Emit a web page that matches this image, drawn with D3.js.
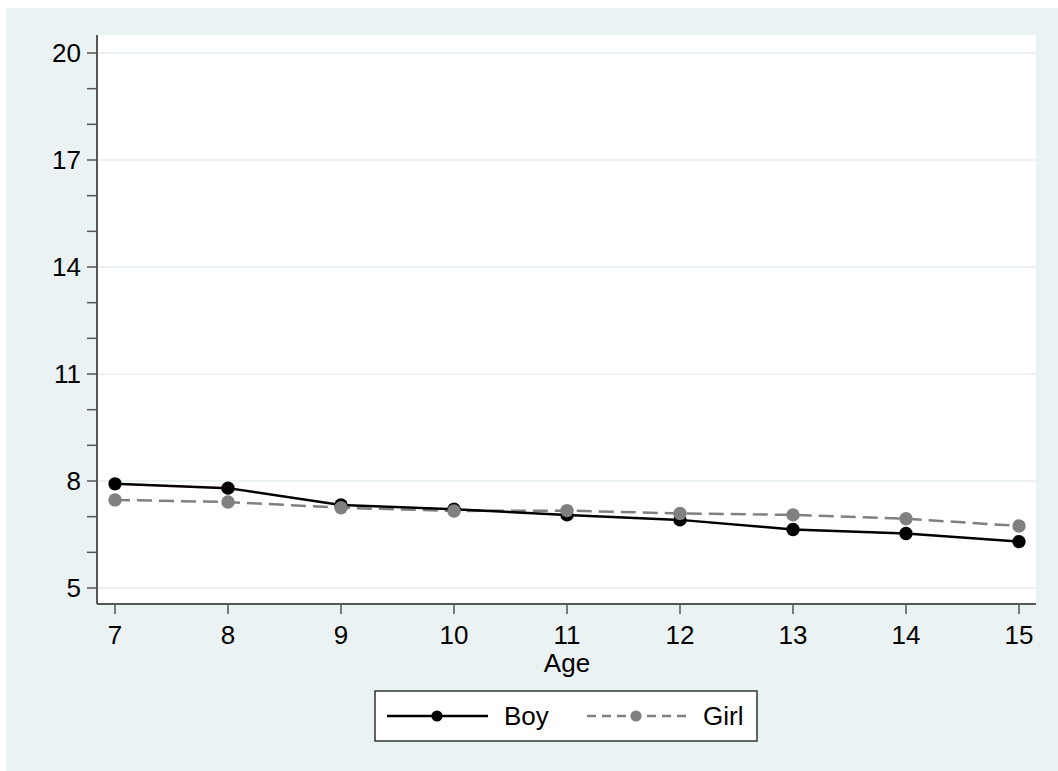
<!DOCTYPE html>
<html><head><meta charset="utf-8">
<script src="https://cdn.jsdelivr.net/npm/d3@7"></script>
<style>body{margin:0;background:#fff}svg{display:block}</style>
</head><body>
<script>
const ages = [7, 8, 9, 10, 11, 12, 13, 14, 15];
const boy  = [7.92, 7.80, 7.33, 7.21, 7.05, 6.91, 6.64, 6.53, 6.30];
const girl = [7.47, 7.41, 7.25, 7.16, 7.17, 7.09, 7.05, 6.94, 6.74];
const yMajor = [5, 8, 11, 14, 17, 20];
const yMinor = d3.range(5, 21, 1);
const seriesNames = ["Boy", "Girl"];

const W = 1058, H = 771;
const svg = d3.select("body").append("svg").attr("width", W).attr("height", H);
const font = "'Liberation Sans', Arial, Helvetica, sans-serif";
const fs = 26;

svg.append("rect").attr("x", 6).attr("y", 8).attr("width", W - 6).attr("height", H - 8).attr("fill", "#eaf2f3");

const plot = {l: 97, r: 1036, t: 35, b: 604};
svg.append("rect").attr("x", plot.l).attr("y", plot.t).attr("width", plot.r - plot.l).attr("height", plot.b - plot.t).attr("fill", "#fff");

const x = d3.scaleLinear().domain([7, 15]).range([115, 1019]);
const y = d3.scaleLinear().domain([5, 20]).range([588, 53]);

// gridlines
svg.append("g").selectAll("line").data(yMajor).join("line")
  .attr("x1", plot.l).attr("x2", plot.r)
  .attr("y1", d => y(d)).attr("y2", d => y(d))
  .attr("stroke", "#eaf2f3").attr("stroke-width", 2);

// y axis
const yAxis = svg.append("g").attr("transform", `translate(${plot.l},0)`);
yAxis.append("line").attr("x1", 0).attr("x2", 0).attr("y1", plot.t).attr("y2", plot.b).attr("stroke", "#555").attr("stroke-width", 2);
yAxis.selectAll("line.t").data(yMinor).join("line").attr("class", "t")
  .attr("x1", -10).attr("x2", 0).attr("y1", d => y(d)).attr("y2", d => y(d))
  .attr("stroke", "#555").attr("stroke-width", 1.5);
yAxis.selectAll("text").data(yMajor).join("text")
  .attr("x", -16).attr("y", d => y(d)).attr("dy", "0.36em")
  .attr("text-anchor", "end").attr("font-family", font).attr("font-size", fs)
  .attr("fill", "#000").text(d => d);

// x axis
const xAxis = svg.append("g").attr("transform", `translate(0,${plot.b})`);
xAxis.append("line").attr("x1", plot.l).attr("x2", plot.r).attr("y1", 0).attr("y2", 0).attr("stroke", "#555").attr("stroke-width", 2);
xAxis.selectAll("line.t").data(ages).join("line").attr("class", "t")
  .attr("x1", d => x(d)).attr("x2", d => x(d)).attr("y1", 0).attr("y2", 10)
  .attr("stroke", "#555").attr("stroke-width", 1.5);
xAxis.selectAll("text").data(ages).join("text")
  .attr("x", d => x(d)).attr("y", 40)
  .attr("text-anchor", "middle").attr("font-family", font).attr("font-size", fs)
  .attr("fill", "#000").text(d => d);
svg.append("text").attr("x", x(11)).attr("y", 672).attr("text-anchor", "middle")
  .attr("font-family", font).attr("font-size", fs).attr("fill", "#000").text("Age");

// lines
const line = d3.line().x((d, i) => x(ages[i])).y(d => y(d));
svg.append("path").datum(girl).attr("d", line).attr("fill", "none")
  .attr("stroke", "#808080").attr("stroke-width", 2.5).attr("stroke-dasharray", "15,7");
svg.append("path").datum(boy).attr("d", line).attr("fill", "none")
  .attr("stroke", "#000").attr("stroke-width", 2.5);
svg.append("g").selectAll("circle").data(boy).join("circle")
  .attr("cx", (d, i) => x(ages[i])).attr("cy", d => y(d)).attr("r", 6.7).attr("fill", "#000");
svg.append("g").selectAll("circle").data(girl).join("circle")
  .attr("cx", (d, i) => x(ages[i])).attr("cy", d => y(d)).attr("r", 6.7).attr("fill", "#808080");

// legend
const lg = svg.append("g");
lg.append("rect").attr("x", 375).attr("y", 691).attr("width", 382).attr("height", 50)
  .attr("fill", "#fff").attr("stroke", "#333").attr("stroke-width", 1.5);
const ly = 716;
lg.append("line").attr("x1", 387).attr("x2", 488).attr("y1", ly).attr("y2", ly).attr("stroke", "#000").attr("stroke-width", 2.5);
lg.append("circle").attr("cx", 437).attr("cy", ly).attr("r", 5.6).attr("fill", "#000");
lg.append("text").attr("x", 504).attr("y", ly).attr("dy", "0.36em").attr("font-family", font).attr("font-size", fs).text(seriesNames[0]);
lg.append("line").attr("x1", 587).attr("x2", 688).attr("y1", ly).attr("y2", ly).attr("stroke", "#808080").attr("stroke-width", 2.5).attr("stroke-dasharray", "9,6");
lg.append("circle").attr("cx", 636).attr("cy", ly).attr("r", 5.6).attr("fill", "#808080");
lg.append("text").attr("x", 703).attr("y", ly).attr("dy", "0.36em").attr("font-family", font).attr("font-size", fs).text(seriesNames[1]);
</script>
</body></html>
